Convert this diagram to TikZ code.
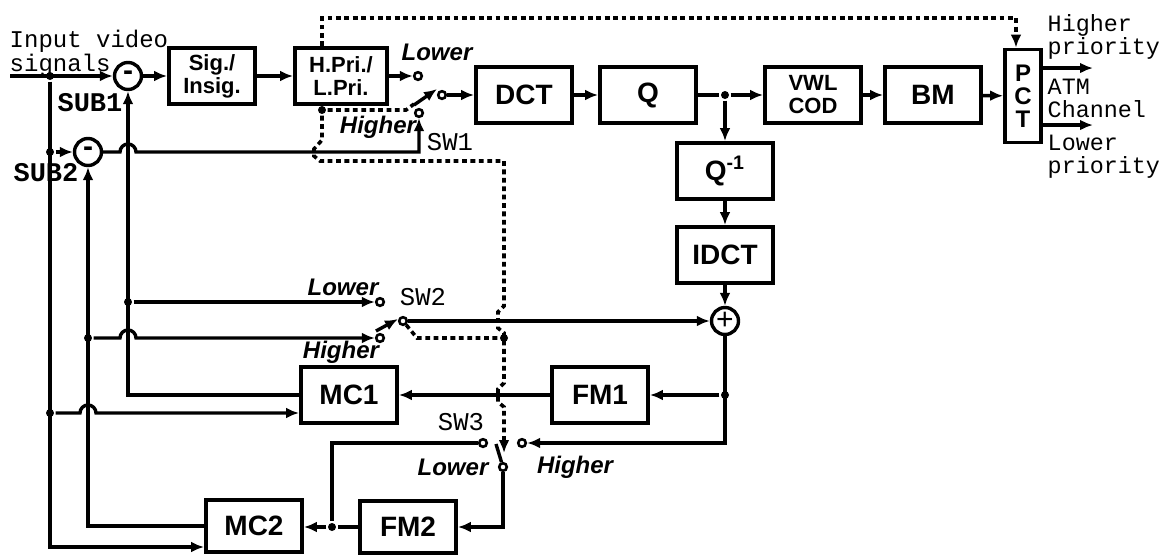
\documentclass[tikz,border=0pt]{standalone}
\usepackage{fontspec}
\setmainfont{Liberation Sans}
\newfontfamily\courfont{Liberation Mono}
\usetikzlibrary{arrows.meta}

\begin{document}
\begin{tikzpicture}[x=0.5pt, y=-0.5pt, >={Latex[length=6.5pt,width=5.4pt]}, line width=1.7pt,
    blk/.style={draw, line width=1.9pt, inner sep=0pt, align=center, minimum width=48pt, minimum height=28pt,
        font=\bfseries\fontsize{14}{14}\selectfont},
    sblk/.style={blk, font=\bfseries\fontsize{11}{11.5}\selectfont},
    sum/.style={circle, draw, line width=1.7pt, minimum size=13.5pt, inner sep=0pt},
    cnt/.style={circle, draw, fill=white, line width=1.3pt, minimum size=3.8pt, inner sep=0pt},
    dot/.style={circle, fill, minimum size=4pt, inner sep=0pt},
    ctrl/.style={line width=1.8pt, dash pattern=on 2.4pt off 1.8pt},
    sel/.style={font=\bfseries\itshape\fontsize{12}{12}\selectfont, inner sep=0pt},
    swname/.style={font=\courfont\fontsize{12.8}{12.8}\selectfont, inner sep=0pt},
    subname/.style={font=\courfont\bfseries\fontsize{13.5}{13.5}\selectfont, inner sep=0pt},
    outtxt/.style={font=\courfont\fontsize{11.7}{11.5}\selectfont, align=left, anchor=west, inner sep=0pt}]
    \useasboundingbox (0,0) rectangle (1162,558);

    % 1. blocks
    \node[sblk, minimum width=43pt] (sig) at (212,76) {Sig./\\Insig.};
    \node[sblk, minimum width=46pt] (hpri) at (341,76) {H.Pri./\\L.Pri.};
    \node[blk] (dct) at (524,95) {DCT};
    \node[blk] (q) at (648,95) {Q};
    \node[sblk] (vwl) at (813,95) {VWL\\COD};
    \node[blk] (bm) at (933,95) {BM};
    \node[blk, font=\bfseries\fontsize{12}{11.5}\selectfont, minimum width=18pt, minimum height=46.5pt] (pct) at (1023,96) {P\\C\\T};
    \node[blk] (qinv) at (725,171) {Q\textsuperscript{-1}};
    \node[blk] (idct) at (725,255) {IDCT};
    \node[blk] (fm1) at (600,395) {FM1};
    \node[blk] (mc1) at (349,395) {MC1};
    \node[blk, minimum height=26pt] (mc2) at (254,526) {MC2};
    \node[blk, minimum height=26pt] (fm2) at (408,527) {FM2};

    % 2. subtractors, adder, switch contacts, junctions
    \node[sum, font=\bfseries\fontsize{15}{15}\selectfont] (sub1) at (128,76) {-};
    \node[sum, font=\bfseries\fontsize{15}{15}\selectfont] (sub2) at (88,152) {-};
    \node[sum, font=\fontsize{15}{15}\selectfont] (add) at (725,321) {+};
    \node[cnt] (s1l) at (418,76) {};
    \node[cnt] (s1c) at (442,95) {};
    \node[cnt] (s1h) at (419,113) {};
    \node[cnt] (s2l) at (380,302) {};
    \node[cnt] (s2c) at (403,321) {};
    \node[cnt] (s2h) at (380,338) {};
    \node[cnt] (s3l) at (483,443) {};
    \node[cnt] (s3r) at (522,443) {};
    \node[cnt] (s3c) at (503,467) {};
    \node[dot] (j1) at (50,76) {};
    \node[dot] (j2) at (50,152) {};
    \node[dot] (j5) at (50,413) {};
    \node[dot] (j3) at (128,302) {};
    \node[dot] (j4) at (88,338) {};
    \node[dot] (jq) at (725,95) {};
    \node[dot] (jf) at (725,395) {};
    \node[dot] (jm) at (332,527) {};
    \node[dot] (dh) at (322,110) {};
    \node[dot] (d2) at (504,338) {};
    \coordinate (vin) at (10,76);
    \coordinate (cb) at (50,547);
    \coordinate (hp) at (1093,68);
    \coordinate (lp) at (1093,125);
    \coordinate (ct) at (322,18);
    \coordinate (cp) at (1016,18);

    % 3. forward path
    \draw[->] (vin) -- (sub1);
    \draw[->] (sub1) -- (sig);
    \draw[->] (sig) -- (hpri);
    \draw[->] (hpri) -- (s1l);
    \draw[->] (s1c) -- (dct);
    \draw[->] (dct) -- (q);
    \draw[->] (q) -- (jq) -- (vwl);
    \draw[->] (vwl) -- (bm);
    \draw[->] (bm) -- (pct);
    \draw[->] (pct.east |- hp) -- (hp);
    \draw[->] (pct.east |- lp) -- (lp);

    % 4. local decoder and frame memories
    \draw[->] (jq) -- (qinv);
    \draw[->] (qinv) -- (idct);
    \draw[->] (idct) -- (add);
    \draw[->] (s2c) -- (add);
    \draw[->] (add) |- (s3r);
    \draw[->] (jf) -- (fm1);
    \draw[->] (fm1) -- (mc1);
    \draw (s3l) -| (jm);
    \draw[->] (s3c) |- (fm2);
    \draw[->] (fm2) -- (jm) -- (mc2.east |- jm);

    % 5. predictions back to the subtractors
    \draw[->] (mc1.west) -| (sub1.south);
    \draw[->] (mc2.west) -| (sub2.south);
    \draw[->] (j1) -- (cb) -- (cb -| mc2.west);
    \draw[->] (j2) -- (sub2);
    \draw[->] (j5) -- (80,413) arc[start angle=180, end angle=0, radius=4pt] -- (mc1.west |- j5);
    \draw[->] (sub2) -- (120,152) arc[start angle=180, end angle=0, radius=4pt] -- (s1h |- sub2) -- (s1h);
    \draw[->] (j3) -- (s2l);
    \draw[->] (j4) -- (120,338) arc[start angle=180, end angle=0, radius=4pt] -- (s2h);

    % 6. switch blades
    \draw[->] (414,105) -- (437,89);
    \draw[->] (376,331) -- (398,319);
    \draw (s3c) -- (496,444);

    % 7. priority control (dotted)
    \draw[ctrl, ->] (ct |- hpri.north) -- (ct) -- (cp) -- (cp |- pct.north);
    \draw[ctrl] (dh) -- (406,110) -- (414,104);
    \draw[ctrl, ->] (dh) -- (322,140) -- (314,149) -- (314,156) -- (320,161) -- (504,161) -- (504,306) -- (498,312)
        -- (498,328) -- (504,333) -- (504,383) -- (498,389) -- (498,402) -- (504,407) -- (504,453);
    \draw[ctrl] (s2c) -- (417,338) -- (d2);

    % 8. texts
    \node[font=\courfont\fontsize{12}{11}\selectfont, align=left, anchor=west, inner sep=0pt] (vtxt) at (8,53) {Input video\\signals};
    \node[subname] (n1) at (90,103) {SUB1};
    \node[subname] (n2) at (46,173) {SUB2};
    \node[sel] (l1) at (437,52) {Lower};
    \node[sel] (h1) at (378,127) {Higher};
    \node[swname] (w1) at (450,142) {SW1};
    \node[sel] (l2) at (343,287) {Lower};
    \node[sel] (h2) at (341,352) {Higher};
    \node[swname] (w2) at (423,297) {SW2};
    \node[swname] (w3) at (461,422) {SW3};
    \node[sel] (l3) at (453,467) {Lower};
    \node[sel] (h3) at (575,467) {Higher};
    \node[outtxt] (o1) at (1046,37) {Higher\\priority};
    \node[outtxt] (o2) at (1046,98) {ATM\\Channel};
    \node[outtxt] (o3) at (1046,157) {Lower\\priority};
\end{tikzpicture}
\end{document}
